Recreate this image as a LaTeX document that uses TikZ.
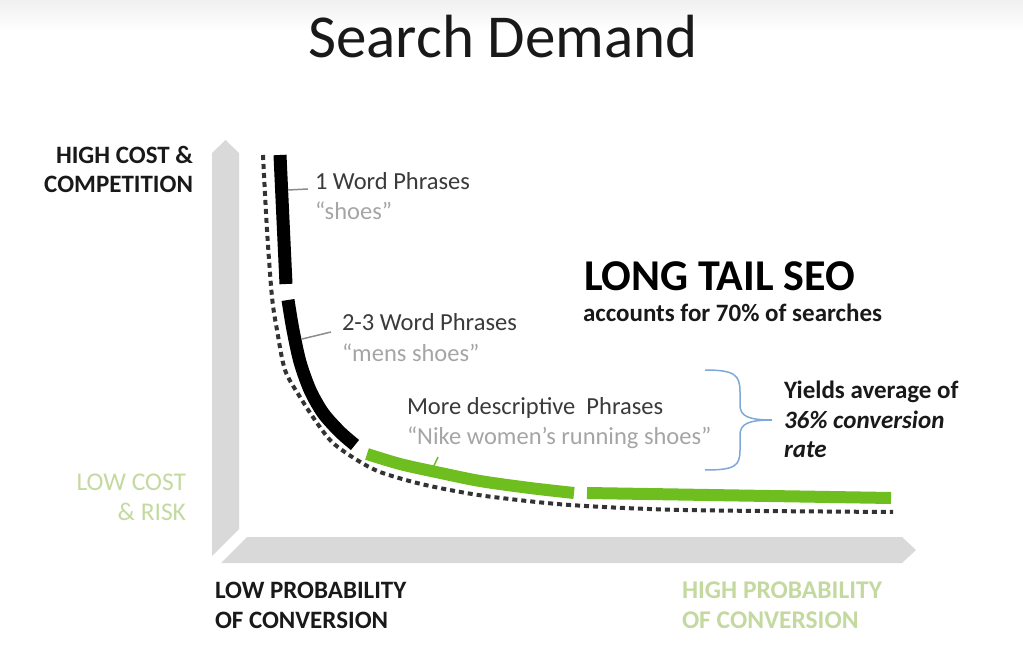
\documentclass[tikz,border=0pt]{standalone}
\usepackage{fontspec}
\setmainfont{Carlito}
\definecolor{axisgray}{HTML}{D9D9D9}
\definecolor{curvegreen}{HTML}{6DBE1E}
\definecolor{lightgreen}{HTML}{C4D9A0}
\definecolor{txtdark}{HTML}{3A3A3A}
\definecolor{txtgray}{HTML}{A5A5A5}
\definecolor{bracecol}{HTML}{7EA8D8}
\definecolor{leadgray}{HTML}{8C8C8C}
\begin{document}
\begin{tikzpicture}[x=1pt,y=-1pt,
  lbl/.style={inner sep=0pt,outer sep=0pt},
  axislbl/.style={lbl,font=\fontsize{25}{29}\selectfont\bfseries},
  phrase/.style={lbl,font=\fontsize{24.5}{29}\selectfont,text=txtdark},
  example/.style={lbl,font=\fontsize{24.5}{29}\selectfont,text=txtgray},
  blackseg/.style={line width=13pt,black},
  greenseg/.style={line width=12pt,curvegreen},
  dashcurve/.style={line width=4pt,black!80,dash pattern=on 5pt off 4pt},
  leader/.style={line width=1.5pt,leadgray}]
\useasboundingbox (0,0) rectangle (1023,668);
\shade[top color=black!6,bottom color=white] (0,0) rectangle (1023,30);
% title
\node[lbl,anchor=base,font=\fontsize{61}{70}\selectfont,text=black!90] (title) at (503,58) {Search Demand};
% axes
\fill[axisgray] (212,556) -- (212,153) -- (225.5,140) -- (239,153) -- (239,529) -- cycle;
\fill[axisgray] (247,537) -- (902,537) -- (916,550) -- (902,563) -- (221,563) -- cycle;
% axis labels
\node[axislbl,anchor=base east,text=black!90] (hc1) at (193,164) {HIGH COST \&};
\node[axislbl,anchor=base east,text=black!90] (hc2) at (193,193) {COMPETITION};
\node[axislbl,anchor=base east,text=lightgreen,font=\fontsize{25.5}{29}\selectfont] (lc1) at (186,490) {LOW COST};
\node[axislbl,anchor=base east,text=lightgreen,font=\fontsize{25.5}{29}\selectfont] (lc2) at (186,520) {\& RISK};
\node[axislbl,anchor=base west,text=black!90] (lp1) at (215,598) {LOW PROBABILITY};
\node[axislbl,anchor=base west,text=black!90] (lp2) at (215,628) {OF CONVERSION};
\node[axislbl,anchor=base west,text=lightgreen,font=\fontsize{25.5}{29}\selectfont\bfseries] (hp1) at (682,598) {HIGH PROBABILITY};
\node[axislbl,anchor=base west,text=lightgreen,font=\fontsize{25.5}{29}\selectfont\bfseries] (hp2) at (682,628) {OF CONVERSION};
% curves
\draw[dashcurve] plot[smooth] coordinates {(263,155) (267,230) (272,297) (277,330) (285,370) (300,397) (317,423) (333,443) (357,460) (380,472) (417,483) (455,491) (493,497) (570,505) (684,510) (893,512)};
\draw[blackseg] plot[smooth] coordinates {(280,155) (283,220) (286,284)};
\draw[blackseg] plot[smooth] coordinates {(288,300) (293,330) (300,362) (310,390) (323,413) (340,432) (355,445)};
\draw[greenseg] plot[smooth] coordinates {(367,454) (400,464) (436,472) (480,481) (530,488) (574,493)};
\draw[greenseg] (587,493) -- (891,498);
% phrases
\node[phrase,anchor=base west] (p1) at (315,190) {1 Word Phrases};
\node[example,anchor=base west] (e1) at (315,220) {“shoes”};
\node[phrase,anchor=base west] (p2) at (342,331) {2-3 Word Phrases};
\node[example,anchor=base west] (e2) at (342,361) {“mens shoes”};
\node[phrase,anchor=base west] (p3) at (407,414) {More descriptive\ \ Phrases};
\node[example,anchor=base west] (e3) at (407,444) {“Nike women’s running shoes”};
% leaders
\coordinate (c1) at (288,190);
\coordinate (c1e) at (308,189);
\coordinate (c2) at (302,339);
\coordinate (c2e) at (331,332);
\coordinate (c3) at (432,470);
\coordinate (c3e) at (438,457);
\draw[leader] (c1) -- (c1e);
\draw[leader] (c2) -- (c2e);
\draw[line width=1.5pt,curvegreen] (c3) -- (c3e);
% long tail
\node[lbl,anchor=base west,font=\fontsize{44}{50}\selectfont\bfseries] (lt) at (584,291) {LONG TAIL SEO};
\node[lbl,anchor=base west,font=\fontsize{25}{29}\selectfont\bfseries,text=black!90] (acc) at (583,322) {accounts for 70\% of searches};
% brace
\draw[bracecol,line width=1.5pt] (705,370) .. controls (735,370) and (740,375) .. (740,392) -- (740,405) .. controls (740,416) and (748,420) .. (772,420) .. controls (748,420) and (740,424) .. (740,435) -- (740,450) .. controls (740,466) and (735,470) .. (705,470);
\node[lbl,anchor=base west,font=\fontsize{25}{29}\selectfont\bfseries,text=black!90] (y1) at (784,398) {Yields average of};
\node[lbl,anchor=base west,font=\fontsize{25}{29}\selectfont\bfseries\itshape,text=black!90] (y2) at (784,428) {36\% conversion};
\node[lbl,anchor=base west,font=\fontsize{25}{29}\selectfont\bfseries\itshape,text=black!90] (y3) at (784,457) {rate};
\end{tikzpicture}
\end{document}
